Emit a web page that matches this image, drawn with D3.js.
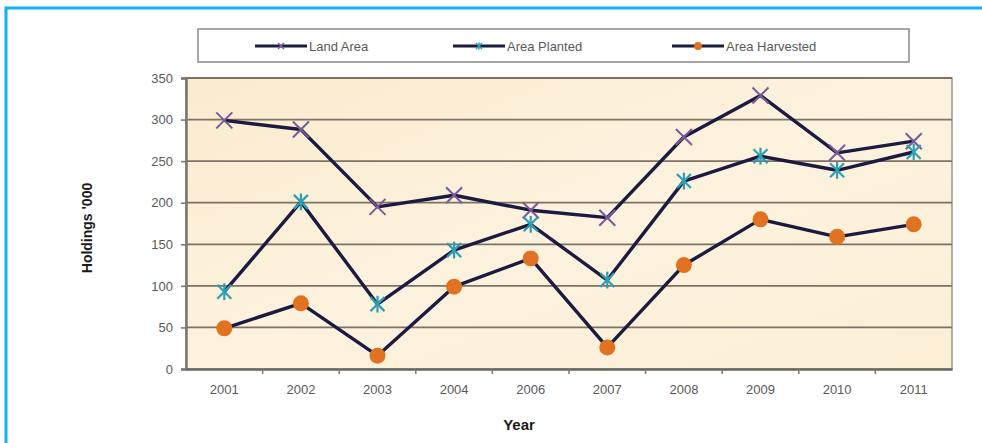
<!DOCTYPE html>
<html><head><meta charset="utf-8">
<script src="https://cdnjs.cloudflare.com/ajax/libs/d3/7.8.5/d3.min.js"></script>
<style>body{margin:0;background:#fff;}svg{display:block;font-family:Arial,"Liberation Sans",sans-serif;}</style>
</head><body>
<svg id="c" width="982" height="443"></svg>
<script>
const years = ["2001","2002","2003","2004","2006","2007","2008","2009","2010","2011"];
const landArea = [299, 288, 195, 209, 191, 182, 279, 329, 260, 274];
const areaPlanted = [93, 201, 78, 143, 174, 107, 226, 256, 239, 261];
const areaHarvested = [49, 79, 16, 99, 133, 26, 125, 180, 159, 174];
const seriesNames = ["Land Area", "Area Planted", "Area Harvested"];
const yTicks = [0, 50, 100, 150, 200, 250, 300, 350];

const svg = d3.select("#c");
const L = 186, R = 952, T = 78, B = 369;

// frame
svg.append("path").attr("d", "M6,443 V8 H982").attr("fill", "none")
  .attr("stroke", "#0db4f0").attr("stroke-width", 3);

const defs = svg.append("defs");
const g = defs.append("linearGradient").attr("id", "bg").attr("x1", 0).attr("y1", 0).attr("x2", 1).attr("y2", 1);
g.append("stop").attr("offset", "0%").attr("stop-color", "#fbeccf");
g.append("stop").attr("offset", "50%").attr("stop-color", "#fdf2de");
g.append("stop").attr("offset", "100%").attr("stop-color", "#fcefd6");

const x = d3.scaleBand().domain(years).range([L, R]);
const y = d3.scaleLinear().domain([0, 350]).range([B, T]);

svg.append("rect").attr("x", L).attr("y", T).attr("width", R - L).attr("height", B - T)
  .attr("fill", "url(#bg)").attr("stroke", "#9a948a").attr("stroke-width", 1.5);

// gridlines
svg.append("g").selectAll("line").data(yTicks.filter(d => d > 0)).join("line")
  .attr("x1", L).attr("x2", R).attr("y1", d => y(d)).attr("y2", d => y(d))
  .attr("stroke", "#7d7264").attr("stroke-width", 1.8);

// y axis
const ya = svg.append("g").attr("transform", `translate(${L},0)`)
  .call(d3.axisLeft(y).tickValues(yTicks).tickSize(5).tickPadding(8));
ya.select(".domain").attr("stroke", "#7a7670").attr("stroke-width", 2.5);
ya.selectAll(".tick line").attr("stroke", "#7a7670").attr("stroke-width", 1.5);
ya.selectAll("text").attr("fill", "#5a5a5a").attr("font-size", 13);

// x axis
const xa = svg.append("g").attr("transform", `translate(0,${B})`)
  .call(d3.axisBottom(x).tickSize(0).tickPadding(16));
xa.select(".domain").attr("stroke", "#6a6660").attr("stroke-width", 2.5);
xa.selectAll("text").attr("fill", "#5a5a5a").attr("font-size", 13);
svg.append("g").selectAll("line").data(years.slice(1)).join("line")
  .attr("x1", d => x(d)).attr("x2", d => x(d)).attr("y1", B).attr("y2", B + 5)
  .attr("stroke", "#7a7670").attr("stroke-width", 1.5);

// axis titles
svg.append("text").attr("x", 519).attr("y", 430).attr("text-anchor", "middle")
  .attr("font-weight", "bold").attr("font-size", 15).attr("fill", "#1a1a1a").text("Year");
svg.append("text").attr("transform", "translate(92,228) rotate(-90)").attr("text-anchor", "middle")
  .attr("font-weight", "bold").attr("font-size", 14).attr("fill", "#1a1a1a").text("Holdings '000");

const line = d3.line().x((d, i) => x(years[i]) + x.bandwidth() / 2).y(d => y(d));
const lineColor = "#1b1a40";
const data = [landArea, areaPlanted, areaHarvested];
data.forEach(s => {
  svg.append("path").datum(s).attr("d", line).attr("fill", "none")
    .attr("stroke", lineColor).attr("stroke-width", 3.4).attr("stroke-linejoin", "round");
});

function xMark(sel, cx, cy, r, color, star, w) {
  const gg = sel.append("g").attr("transform", `translate(${cx},${cy})`)
    .attr("stroke", color).attr("stroke-width", w || 2).attr("fill", "none");
  gg.append("line").attr("x1", -r).attr("y1", -r).attr("x2", r).attr("y2", r);
  gg.append("line").attr("x1", -r).attr("y1", r).attr("x2", r).attr("y2", -r);
  if (star) gg.append("line").attr("x1", 0).attr("y1", -r * 1.2).attr("x2", 0).attr("y2", r * 1.2);
}
const mk = svg.append("g");
landArea.forEach((v, i) => xMark(mk, x(years[i]) + x.bandwidth() / 2, y(v), 8, "#7a5a98", false));
areaPlanted.forEach((v, i) => xMark(mk, x(years[i]) + x.bandwidth() / 2, y(v), 7, "#2c9fb5", true, 2.2));
mk.selectAll("circle").data(areaHarvested).join("circle")
  .attr("cx", (d, i) => x(years[i]) + x.bandwidth() / 2).attr("cy", d => y(d)).attr("r", 8)
  .attr("fill", "#e07222");

// legend
svg.append("rect").attr("x", 198).attr("y", 29).attr("width", 711).attr("height", 33)
  .attr("fill", "#fff").attr("stroke", "#8a8a8a").attr("stroke-width", 1.5);
const legX = [255, 453, 672];
const lg = svg.append("g");
seriesNames.forEach((n, i) => {
  const lx = legX[i];
  lg.append("line").attr("x1", lx).attr("x2", lx + 52).attr("y1", 46).attr("y2", 46)
    .attr("stroke", lineColor).attr("stroke-width", 3);
  if (i === 0) xMark(lg, lx + 26, 46, 3, "#7a5a98", false, 1.5);
  if (i === 1) xMark(lg, lx + 26, 46, 3, "#2c9fb5", true, 1.5);
  if (i === 2) lg.append("circle").attr("cx", lx + 26).attr("cy", 46).attr("r", 4).attr("fill", "#e07222");
  lg.append("text").attr("x", lx + 54).attr("y", 51).attr("font-size", 13).attr("fill", "#5a5a5a").text(n);
});
</script>
</body></html>
